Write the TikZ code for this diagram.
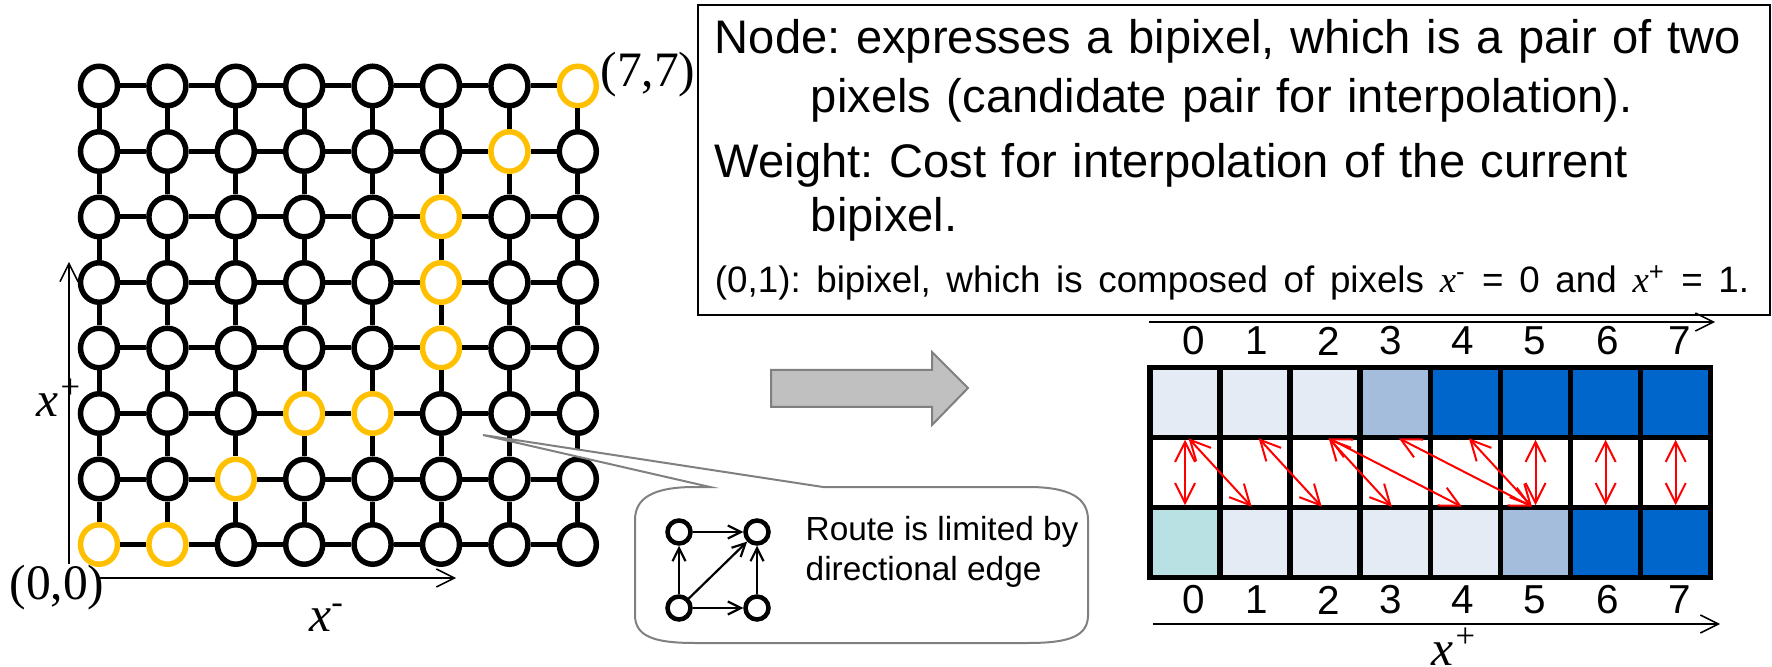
\documentclass[tikz,border=0pt]{standalone}
\usepackage{fontspec}
\setmainfont{Liberation Sans}
\newfontfamily\tnr{Liberation Serif}
\usepackage{tikz}
\usetikzlibrary{arrows.meta,positioning,calc,shapes.geometric}
\definecolor{gold}{HTML}{FFC000}
\definecolor{pale}{HTML}{E4EBF5}
\definecolor{midblue}{HTML}{A4BDDC}
\definecolor{deepblue}{HTML}{0066CC}
\definecolor{paleteal}{HTML}{B9E0E2}
\definecolor{callgray}{HTML}{808080}
\definecolor{arrowgray}{HTML}{C0C0C0}

\begin{document}
\begin{tikzpicture}[
x=0.1mm,
y=-0.1mm,
every node/.style={inner sep=0pt},
gnode/.style={ellipse,draw,line width=0.55mm,fill=white,minimum width=3.7mm,minimum height=3.95mm},
pick00/.style={draw=gold},pick10/.style={draw=gold},pick21/.style={draw=gold},
pick32/.style={draw=gold},pick42/.style={draw=gold},pick53/.style={draw=gold},
pick54/.style={draw=gold},pick55/.style={draw=gold},pick66/.style={draw=gold},
pick77/.style={draw=gold},
gedge/.style={line width=0.5mm},
gdiag/.style={line width=0.15mm},
axis/.style={line width=0.15mm,-{Straight Barb[length=1.8mm,width=1.8mm]}},
serif/.style={font=\tnr\fontsize{14.1}{16}\selectfont},
infobox/.style={draw,line width=0.18mm,align=left,text width=103.8mm,inner xsep=1.7mm,inner ysep=0pt,minimum height=31mm,font=\frenchspacing\fontsize{13.4}{15.6}\selectfont},
cell/.style={draw,line width=0.55mm,minimum size=7mm},
digit/.style={font=\fontsize{11.5}{13}\selectfont},
bip/.style={red,line width=0.2mm,{Straight Barb[length=2mm,width=2mm]}-{Straight Barb[length=2mm,width=2mm]}},
callout/.style={draw=callgray,line width=0.2mm,fill=white},
snode/.style={circle,draw,line width=0.45mm,minimum size=2.3mm},
sarr/.style={line width=0.22mm,-{Straight Barb[length=1.3mm,width=1.3mm]}},
ctext/.style={align=left,font=\fontsize{9.5}{11.4}\selectfont},
blockarrow/.style={draw=callgray,fill=arrowgray,line width=0.2mm}
]
\useasboundingbox (0,0) rectangle (1772,667);

% lattice of bipixels
\foreach \i in {0,...,7}
  \foreach \j in {0,...,7}
    \node[gnode,pick\i\j/.try] (g\i\j) at ({99+68.4*\i},{544.5-65.5*\j}) {};
\foreach \i [evaluate=\i as \k using int(\i+1)] in {0,...,6}
  \foreach \j in {0,...,7} {
    \draw[gedge] (g\i\j) -- (g\k\j);
    \draw[gedge] (g\j\i) -- (g\j\k);
  }
\foreach \i [evaluate=\i as \k using int(\i+1)] in {0,...,6}
  \foreach \j [evaluate=\j as \l using int(\j+1)] in {0,...,6}
    \draw[gdiag] (g\i\j) -- (g\k\l);

% axes
\coordinate (hx0) at (100,578);
\coordinate (hx1) at (456,578);
\coordinate (vy0) at (69,564);
\coordinate (vy1) at (69,262);
\draw[axis] (hx0) -- (hx1);
\draw[axis] (vy0) -- (vy1);
\node[serif] (o00) at (57,588) {(0,0)};
\node[serif] (o77) at (648,75) {(7,7)};
\node[serif] (xminus) at (327,618) {\itshape x\textsuperscript{-}};
\node[serif] (xplus) at (60,398) {\itshape x\textsuperscript{+}};

% explanation
\node[infobox,anchor=north west] (info) at (697,4) {Node: expresses a bipixel, which is a pair of two\\[0.4mm]
\hspace*{9.6mm}pixels (candidate pair for interpolation).\\[1mm]
Weight: Cost for interpolation of the current\\
\hspace*{9.6mm}bipixel.\\[0.6mm]
\mbox{\fontsize{10.46}{12}\selectfont (0,1): bipixel, which is composed of pixels {\tnr\itshape x}\textsuperscript{-} = 0 and {\tnr\itshape x}\textsuperscript{+} = 1.}};

% block arrow
\draw[blockarrow] (771,370) -- (932,370) -- (932,352) -- (968,388) -- (932,425) -- (932,407) -- (771,407) -- cycle;

% callout
\coordinate (ptip) at (483,435);
\draw[callout] (710,487) -- (ptip) -- (823,487) -- (1028,487)
  .. controls (1070,487) and (1088,498) .. (1088,520) -- (1088,615)
  .. controls (1088,636) and (1070,643) .. (1028,643) -- (695,643)
  .. controls (653,643) and (635,636) .. (635,615) -- (635,520)
  .. controls (635,498) and (653,487) .. (695,487) -- cycle;
\node[snode] (stl) at (679,532) {};
\node[snode] (str) at (757,532) {};
\node[snode] (sbl) at (679,608) {};
\node[snode] (sbr) at (757,608) {};
\draw[sarr] (sbl) -- (stl);
\draw[sarr] (sbl) -- (sbr);
\draw[sarr] (stl) -- (str);
\draw[sarr] (sbl) -- (str);
\draw[sarr] (sbr) -- (str);
\node[ctext,anchor=west] (route) at (805,552) {Route is limited by\\directional edge};

% pixel rows
\foreach \c [count=\i from 0] in {pale,pale,pale,midblue,deepblue,deepblue,deepblue,deepblue}
  \node[cell,fill=\c] (t\i) at ({1185+70.1*\i},402.5) {};
\foreach \c [count=\i from 0] in {white,white,white,white,white,white,white,white}
  \node[cell,fill=\c] (m\i) at ({1185+70.1*\i},472.5) {};
\foreach \c [count=\i from 0] in {paleteal,pale,pale,pale,pale,midblue,deepblue,deepblue}
  \node[cell,fill=\c] (b\i) at ({1185+70.1*\i},542.5) {};
\foreach \a in {0,5,6,7}
  \draw[bip] ([yshift=-0.5mm]m\a.north) -- ([yshift=0.5mm]m\a.south);
\foreach \a/\b in {0/1,1/2,2/3,2/4,3/5,4/5}
  \draw[bip] ([xshift=0.35mm,yshift=-0.35mm]m\a.north) -- ([xshift=-0.35mm,yshift=0.35mm]m\b.south);

\foreach \d/\x in {0/1194,1/1257,2/1329,3/1391,4/1463,5/1535,6/1608,7/1680} {
  \node[digit] (tn\d) at (\x,341) {\d};
  \node[digit] (bn\d) at (\x,600) {\d};
}
\coordinate (ta0) at (1149,322);
\coordinate (ta1) at (1715,322);
\coordinate (ba0) at (1153,624);
\coordinate (ba1) at (1720,624);
\draw[axis] (ta0) -- (ta1);
\draw[axis] (ba0) -- (ba1);
\node[serif] (xplus2) at (1455,647) {\itshape x\textsuperscript{+}};
\end{tikzpicture}
\end{document}
